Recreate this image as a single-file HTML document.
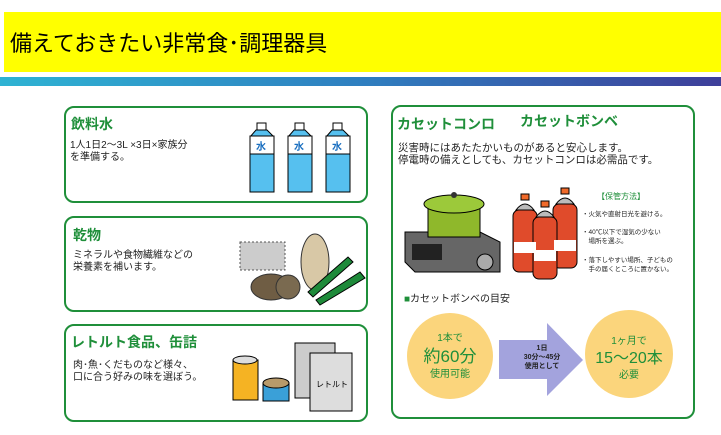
<!DOCTYPE html>
<html><head><meta charset="utf-8"><style>
body{margin:0;width:721px;height:435px;background:#fff;position:relative;overflow:hidden;font-family:"Liberation Sans","Noto Sans CJK JP",sans-serif}
.a{position:absolute;white-space:nowrap}
.box{position:absolute;border:2px solid #1f8f3a;border-radius:10px;box-sizing:border-box}
.t{color:#1f8f3a;font-weight:bold;font-size:14px}
.s{font-size:10px;color:#222;line-height:12px}
</style></head><body>
<div class="a" style="left:4px;top:12px;width:717px;height:60px;background:#ffff00"></div>
<div class="a" style="left:10px;top:26px;font-size:22px;color:#000">備えておきたい非常食･調理器具</div>
<div class="a" style="left:0;top:77px;width:721px;height:9px;background:linear-gradient(90deg,#2fb3d3,#2f7fc0 50%,#3e3f9a)"></div>

<div class="box" style="left:64px;top:106px;width:304px;height:97px"></div>
<div class="a t" style="left:71px;top:114px">飲料水</div>
<div class="a s" style="left:70px;top:140px">1人1日2～3L ×3日×家族分<br>を準備する。</div>
<svg class="a" style="left:248px;top:122px" width="110" height="72">
<g id="b"><rect x="9" y="1" width="9" height="7" fill="#fff" stroke="#000"/><path d="M2 15 L8 8 H19 L26 15 V70 H2Z" fill="#56c0ef" stroke="#000"/><rect x="2" y="14" width="24" height="18" fill="#fff" stroke="#000"/><text x="8" y="28" font-size="10" fill="#1a6fc0" font-weight="bold">水</text></g>
<use href="#b" x="38"/><use href="#b" x="76"/></svg>

<div class="box" style="left:64px;top:216px;width:304px;height:96px"></div>
<div class="a t" style="left:73px;top:225px">乾物</div>
<div class="a s" style="left:73px;top:250px">ミネラルや食物繊維などの<br>栄養素を補います。</div>
<svg class="a" style="left:238px;top:232px" width="130" height="75">
<rect x="2" y="10" width="45" height="28" fill="#ccc" stroke="#555" stroke-dasharray="2,2"/>
<ellipse cx="33" cy="55" rx="20" ry="13" fill="#6f5d44" stroke="#333"/>
<ellipse cx="50" cy="55" rx="12" ry="12" fill="#7a6a50" stroke="#333"/>
<ellipse cx="77" cy="30" rx="14" ry="28" fill="#d8c8a6" stroke="#333"/>
<path d="M70 60 L110 25 L115 30 L75 65Z M78 68 L122 40 L127 46 L82 73Z" fill="#1e8a3a" stroke="#000"/></svg>

<div class="box" style="left:64px;top:324px;width:304px;height:98px"></div>
<div class="a t" style="left:71px;top:332px">レトルト食品、缶詰</div>
<div class="a s" style="left:73px;top:360px">肉･魚･くだものなど様々、<br>口に合う好みの味を選ぼう。</div>
<svg class="a" style="left:230px;top:335px" width="130" height="80">
<rect x="3" y="25" width="25" height="40" fill="#f5b323" stroke="#000"/><ellipse cx="15" cy="25" rx="12" ry="4" fill="#ddd" stroke="#000"/>
<rect x="33" y="48" width="26" height="18" fill="#3aa0d8" stroke="#000"/><ellipse cx="46" cy="48" rx="13" ry="5" fill="#b89a6a" stroke="#000"/>
<rect x="65" y="8" width="40" height="55" fill="#ccc" stroke="#000"/><rect x="80" y="18" width="42" height="58" fill="#ddd" stroke="#000"/><text x="86" y="52" font-size="8">レトルト</text></svg>

<div class="box" style="left:391px;top:105px;width:304px;height:314px"></div>
<div class="a t" style="left:397px;top:114px">カセットコンロ</div>
<div class="a t" style="left:520px;top:111px">カセットボンベ</div>
<div class="a" style="left:398px;top:142px;font-size:10.5px;line-height:12px;color:#222">災害時にはあたたかいものがあると安心します。<br>停電時の備えとしても、カセットコンロは必需品です。</div>
<svg class="a" style="left:400px;top:182px" width="180" height="100">
<path d="M5 50 H80 L100 60 V90 H15 L5 80Z" fill="#666" stroke="#000"/>
<rect x="12" y="62" width="30" height="16" fill="#222"/>
<path d="M28 22 H80 V55 H28Z" fill="#8fb82b" stroke="#000"/><ellipse cx="54" cy="22" rx="30" ry="9" fill="#9cc93a" stroke="#000"/><circle cx="54" cy="13" r="3" fill="#333"/>
<circle cx="85" cy="80" r="8" fill="#aaa" stroke="#000"/>
<g fill="#e04b2b" stroke="#000">
<rect x="113" y="28" width="24" height="62" rx="6"/><rect x="153" y="22" width="24" height="64" rx="6"/><rect x="133" y="35" width="24" height="62" rx="6"/>
<path d="M116 28 Q125 16 134 28Z M156 22 Q165 10 174 22Z M136 35 Q145 23 154 35Z" fill="#bbb"/>
<rect x="121" y="12" width="8" height="6" fill="#f06a2a"/><rect x="161" y="6" width="8" height="6" fill="#f06a2a"/><rect x="141" y="19" width="8" height="6" fill="#f06a2a"/></g>
<g fill="#fff"><rect x="114" y="60" width="22" height="11"/><rect x="154" y="58" width="22" height="11"/><rect x="134" y="68" width="22" height="11"/></g></svg>
<div class="a" style="left:597px;top:191px;font-size:8px;color:#1f8f3a">【保管方法】</div>
<div class="a" style="left:582px;top:210px;font-size:6.5px;line-height:9px;color:#222">・火気や直射日光を避ける。</div>
<div class="a" style="left:582px;top:228px;font-size:6.5px;line-height:9px;color:#222">・40℃以下で湿気の少ない<br>　場所を選ぶ。</div>
<div class="a" style="left:582px;top:256px;font-size:6.5px;line-height:9px;color:#222">・落下しやすい場所、子どもの<br>　手の届くところに置かない。</div>
<div class="a" style="left:404px;top:290px;font-size:10px;color:#222"><span style="color:#1f8f3a">■</span>カセットボンベの目安</div>
<div class="a" style="left:407px;top:313px;width:86px;height:86px;border-radius:50%;background:#fbd57c"></div>
<div class="a" style="left:407px;top:332px;width:86px;text-align:center;color:#1f8f3a;font-size:10px;line-height:14px">1本で<br><span style="font-size:17px;line-height:22px">約60分</span><br>使用可能</div>
<svg class="a" style="left:499px;top:323px" width="90" height="75"><path d="M0 17 H48 V0 L84 37 L48 73 V56 H0Z" fill="#a3a3dd"/></svg>
<div class="a" style="left:502px;top:344px;width:80px;text-align:center;font-size:7px;line-height:9px;font-weight:bold;color:#222">1日<br>30分～45分<br>使用として</div>
<div class="a" style="left:585px;top:310px;width:88px;height:88px;border-radius:50%;background:#fbd57c"></div>
<div class="a" style="left:585px;top:335px;width:88px;text-align:center;color:#1f8f3a;font-size:10px;line-height:14px">1ヶ月で<br><span style="font-size:16px;line-height:20px">15～20本</span><br>必要</div>
</body></html>
